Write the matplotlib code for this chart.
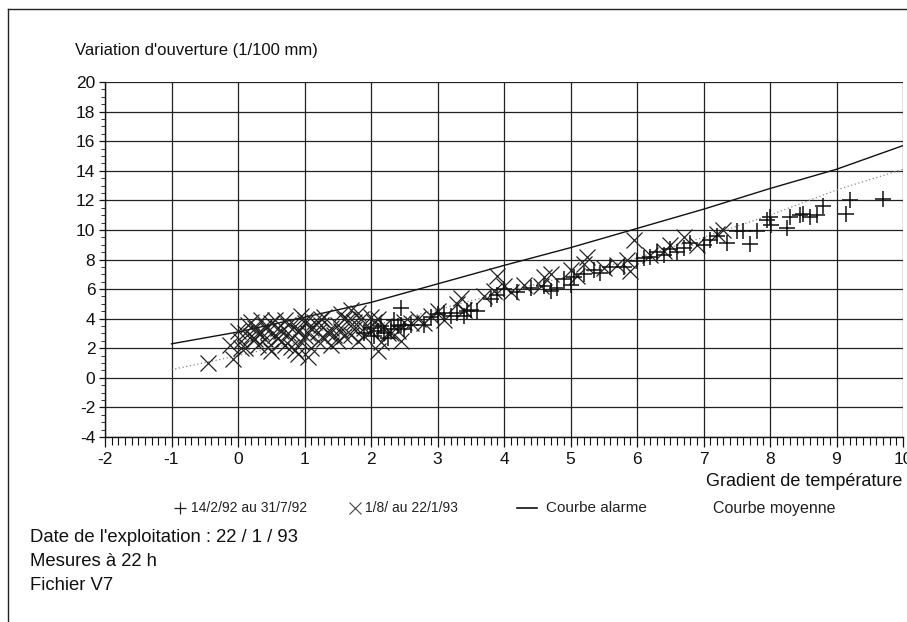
import matplotlib
matplotlib.use("Agg")
import matplotlib.pyplot as plt
from matplotlib.lines import Line2D
from matplotlib.ticker import MultipleLocator

plt.rcParams['font.family'] = ['Liberation Sans', 'DejaVu Sans']

# ---- data ----
plus_x = [1.9, 2.0, 2.05, 2.1, 2.15, 2.2, 2.25, 2.3, 2.35, 2.4, 2.45, 2.45, 2.5, 2.6, 2.8,
          2.9, 3.0, 3.1, 3.2, 3.3, 3.4, 3.45, 3.5, 3.6, 3.8, 3.9, 4.0, 4.2, 4.4, 4.6,
          4.7, 4.8, 4.9, 5.0, 5.05, 5.2, 5.35, 5.45, 5.6, 5.8, 6.0, 6.1, 6.2, 6.3, 6.4,
          6.5, 6.6, 6.7, 6.8, 7.0, 7.1, 7.2, 7.35, 7.5, 7.6, 7.7, 7.8, 7.95, 8.0, 8.02,
          8.25, 8.3, 8.45, 8.5, 8.6, 8.7, 8.8, 9.15, 9.2, 9.7]
plus_y = [3.0, 3.4, 2.8, 3.2, 3.5, 3.0, 2.7, 3.3, 3.9, 3.5, 4.7, 3.6, 3.3, 3.6, 3.6,
          4.1, 4.3, 4.4, 4.2, 4.4, 4.2, 4.5, 4.6, 4.5, 5.3, 5.6, 6.0, 5.8, 6.1, 6.2,
          5.9, 6.1, 6.7, 6.3, 6.8, 7.0, 7.3, 7.1, 7.5, 7.5, 7.9, 8.1, 8.2, 8.5, 8.3,
          8.7, 8.5, 8.8, 9.1, 9.0, 9.3, 9.6, 9.1, 9.9, 9.9, 9.05, 9.9, 10.7, 10.9, 10.3,
          10.1, 10.9, 11.0, 11.1, 10.9, 11.0, 11.6, 11.1, 12.0, 12.1]

cross_x = [-0.45, -0.07, -0.12, 0.0, 0.05, 0.1, 0.15, 0.2, 0.25, 0.3, 0.35, 0.4, 0.45,
           0.5, 0.5, 0.55, 0.6, 0.65, 0.7, 0.75, 0.8, 0.85, 0.9, 0.95, 1.0, 1.05, 1.1,
           1.15, 1.2, 1.3, 1.35, 1.4, 1.5, 1.55, 1.6, 1.7, 1.75, 1.8, 1.85, 2.0, 2.05,
           2.1, 2.15, 2.2, 2.4, 2.45, 2.6, 2.9, 3.0, 3.1, 3.3, 3.35, 3.4, 3.7, 3.85,
           3.9, 4.0, 4.1, 4.3, 4.55, 4.6, 4.7, 5.0, 5.1, 5.2, 5.25, 5.5, 5.7, 5.85,
           5.9, 5.95, 6.2, 6.4, 6.5, 6.7, 6.9, 7.2, 7.3,
           0.3, 0.6, 0.9, 1.25, 1.45, 1.65, 0.05, 0.7, 1.0, 1.9, 2.3,
           0.1, 0.2, 0.25, 0.35, 0.4, 0.45, 0.55, 0.6, 0.65, 0.75, 0.8, 0.85, 0.9,
           0.95, 1.0, 1.05, 1.1, 1.2, 1.25, 1.3, 1.4, 1.5, 1.55, 1.6, 1.7, 1.75,
           1.8, 1.9, 2.0, 2.25, 2.1, 2.5, 2.7, 2.8]
cross_y = [1.0, 1.3, 2.2, 3.2, 2.5, 3.0, 3.6, 2.8, 3.4, 2.2, 3.9, 2.6, 3.2,
           1.8, 3.7, 2.9, 3.4, 2.4, 3.9, 3.0, 2.1, 3.5, 1.6, 4.2, 2.8, 1.4, 3.4,
           3.8, 2.5, 4.1, 3.0, 2.2, 3.6, 4.3, 2.8, 4.6, 3.3, 2.5, 4.0, 3.2, 3.8,
           1.8, 2.4, 3.5, 3.2, 2.5, 3.7, 4.2, 4.5, 3.9, 5.0, 5.4, 4.6, 5.5, 5.9,
           6.9, 6.2, 5.8, 6.3, 6.2, 6.8, 7.0, 7.3, 6.9, 7.7, 8.2, 7.4, 7.6, 8.0,
           7.2, 9.3, 8.3, 8.6, 9.0, 9.5, 9.0, 9.7, 10.0,
           3.0, 2.7, 3.1, 3.6, 2.9, 3.9, 2.0, 2.2, 3.7, 2.8, 3.0,
           2.0, 3.8, 2.6, 3.1, 3.5, 2.1, 3.9, 2.7, 3.2, 3.6, 2.6, 1.9, 3.2,
           2.4, 3.9, 3.0, 2.0, 3.1, 4.0, 2.6, 3.4, 2.5, 3.2, 4.0, 2.9, 3.8,
           4.4, 3.4, 4.1, 3.0, 4.0, 3.8, 4.0, 3.7]

alarm_x = [-1, 0, 1, 2, 3, 4, 5, 6, 7, 8, 9, 10]
alarm_y = [2.3, 3.1, 4.1, 5.1, 6.35, 7.6, 8.8, 10.1, 11.4, 12.8, 14.1, 15.7]

mean_x = [-1, 0, 1, 2, 3, 4, 5, 6, 7, 8, 9, 10]
mean_y = [0.55, 1.5, 2.5, 3.5, 4.6, 5.8, 6.9, 8.1, 9.5, 11.0, 12.7, 14.1]

xticks = [-2, -1, 0, 1, 2, 3, 4, 5, 6, 7, 8, 9, 10]
yticks = [20, 18, 16, 14, 12, 10, 8, 6, 4, 2, 0, -2, -4]

legend_labels = ["14/2/92 au 31/7/92", "1/8/ au 22/1/93", "Courbe alarme", "Courbe moyenne"]
notes = ["Date de l'exploitation : 22 / 1 / 93", "Mesures à 22 h", "Fichier V7"]

# ---- figure ----
W, H = 907, 622
fig = plt.figure(figsize=(W / 100, H / 100), dpi=100)
fig.patch.set_facecolor('white')

def fx(px):
    return px / W

def fy(py):
    return 1 - py / H

ax = fig.add_axes([fx(105), fy(437), fx(903) - fx(105), fy(82) - fy(437)])
ax.set_xlim(-2, 10)
ax.set_ylim(-4, 20)

ax.set_xticks(xticks)
ax.set_yticks(yticks)
ax.set_xticklabels([str(t) for t in xticks])
ax.set_yticklabels([str(t) for t in yticks])
ax.xaxis.set_minor_locator(MultipleLocator(0.1))
ax.yaxis.set_minor_locator(MultipleLocator(0.5))
ax.tick_params(axis='x', which='major', direction='out', length=7, width=0.9,
               labelsize=12.5, pad=4, color='#111')
ax.tick_params(axis='x', which='minor', direction='out', length=6, width=0.8, color='#111')
ax.tick_params(axis='y', which='major', direction='out', length=4, width=0.9,
               labelsize=12.5, pad=3, color='#111')
ax.tick_params(axis='y', which='minor', direction='out', length=3, width=0.6, color='#111')
for lab in ax.get_xticklabels() + ax.get_yticklabels():
    lab.set_color('#111')

ax.grid(True, which='major', color='#222', linewidth=0.9)
ax.set_axisbelow(True)
for side in ['top', 'right']:
    ax.spines[side].set_visible(False)
for side in ['left', 'bottom']:
    ax.spines[side].set_color('#111')
    ax.spines[side].set_linewidth(1.0)

ax.plot(alarm_x, alarm_y, color='#111', linewidth=1.0, zorder=3)
ax.plot(mean_x, mean_y, color='#888', linewidth=0.9, linestyle=(0, (1, 2)), zorder=3)
ax.plot(cross_x, cross_y, linestyle='none', marker='x', markersize=11,
        markeredgewidth=0.9, color='#222', zorder=4)
ax.plot(plus_x, plus_y, linestyle='none', marker='+', markersize=12,
        markeredgewidth=1.1, color='#111', zorder=5)

# axis titles
fig.text(fx(75), fy(50), "Variation d'ouverture (1/100 mm)", fontsize=12,
         ha='left', va='center', color='#111')
fig.text(fx(706), fy(482), "Gradient de température", fontsize=13,
         ha='left', va='center', color='#111')

# legend (manual)
ly = fy(508)
fig.add_artist(Line2D([fx(180)], [ly], marker='+', markersize=9, markeredgewidth=0.9,
                      color='#222', linestyle='none'))
fig.text(fx(191), ly, legend_labels[0], fontsize=10, ha='left', va='center', color='#222')
fig.add_artist(Line2D([fx(355)], [ly], marker='x', markersize=8, markeredgewidth=0.8,
                      color='#444', linestyle='none'))
fig.text(fx(365), ly, legend_labels[1], fontsize=10, ha='left', va='center', color='#222')
fig.add_artist(Line2D([fx(517), fx(537)], [ly, ly], color='#111', linewidth=1.2))
fig.text(fx(546), ly, legend_labels[2], fontsize=11, ha='left', va='center', color='#222')
fig.text(fx(713), ly, legend_labels[3], fontsize=11.5, ha='left', va='center', color='#222')

# notes
for i, t in enumerate(notes):
    fig.text(fx(30), fy(538 + 23.5 * i), t, fontsize=13.3, ha='left', va='center', color='#111')

# page border
fig.add_artist(Line2D([fx(8), fx(907)], [fy(9), fy(9)], color='#222', linewidth=1.0))
fig.add_artist(Line2D([fx(8), fx(8)], [fy(9), fy(622)], color='#222', linewidth=1.0))

fig.savefig("out.png", dpi=100, facecolor='white')
